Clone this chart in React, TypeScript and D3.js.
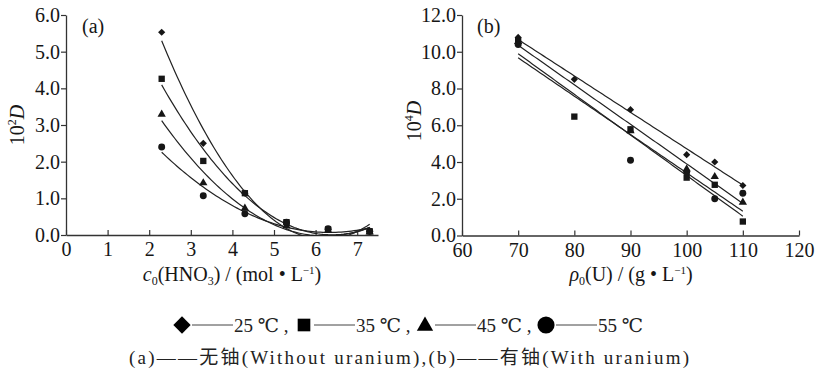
import React, { useEffect, useRef } from 'react';
import * as d3 from 'd3';

// panel (a): without uranium, x = c0(HNO3) mol/L, y = 10^2 D
const concA = [2.3, 3.3, 4.3, 5.3, 6.3, 7.3];
const a25 = [5.53, 2.5, 1.14, 0.3, 0.15, 0.1];
const a35 = [4.26, 2.02, 1.14, 0.35, 0.15, 0.1];
const a45 = [3.29, 1.42, 0.73, 0.25, 0.12, 0.08];
const a55 = [2.4, 1.07, 0.58, 0.35, 0.17, 0.1];

// panel (b): with uranium, x = rho0(U) g/L, y = 10^4 D  (null = no point)
const rhoB = [70, 80, 90, 100, 105, 110];
const b25 = [10.78, 8.5, 6.85, 4.4, 4.0, 2.72];
const b35 = [10.6, 6.47, 5.78, 3.15, 2.76, 0.76];
const b45 = [10.55, null, 5.7, 3.62, 3.2, 1.8];
const b55 = [10.4, null, 4.1, 3.45, 2.0, 2.3];

const temps = ['25 ℃', '35 ℃', '45 ℃', '55 ℃'];
const ticksA_x = [0, 1, 2, 3, 4, 5, 6, 7];
const ticksA_y = [0, 1, 2, 3, 4, 5, 6];
const ticksB_x = [60, 70, 80, 90, 100, 110, 120];
const ticksB_y = [0, 2, 4, 6, 8, 10, 12];

const FONT = 'Liberation Serif, Times New Roman, DejaVu Serif, Noto Sans CJK SC, serif';
const INK = '#161616';

// least squares polynomial fit (degree 1 or 2) via normal equations
function polyFit(xs: number[], ys: (number | null)[], deg: number) {
  const pts = xs.map((x, i) => [x, ys[i]]).filter((p) => p[1] != null) as number[][];
  const n = deg + 1;
  const M: number[][] = [];
  for (let r = 0; r < n; r++) {
    M.push([]);
    for (let c = 0; c <= n; c++) M[r].push(0);
  }
  pts.forEach(([x, y]) => {
    for (let r = 0; r < n; r++) {
      for (let c = 0; c < n; c++) M[r][c] += Math.pow(x, r + c);
      M[r][n] += y * Math.pow(x, r);
    }
  });
  for (let i = 0; i < n; i++) {
    for (let k = i + 1; k < n; k++) {
      const f = M[k][i] / M[i][i];
      for (let c = i; c <= n; c++) M[k][c] -= f * M[i][c];
    }
  }
  const coef = new Array(n).fill(0);
  for (let i = n - 1; i >= 0; i--) {
    let s = M[i][n];
    for (let c = i + 1; c < n; c++) s -= M[i][c] * coef[c];
    coef[i] = s / M[i][i];
  }
  return (x: number) => coef.reduce((acc, c, i) => acc + c * Math.pow(x, i), 0);
}

function markerPath(kind: number, size: number) {
  if (kind === 0 || kind === 1) return d3.symbol(d3.symbolSquare, size)()!;
  if (kind === 2) return d3.symbol(d3.symbolTriangle, size)()!;
  return d3.symbol(d3.symbolCircle, size)()!;
}

export default function App() {
  const ref = useRef<SVGSVGElement>(null);

  useEffect(() => {
    const svg = d3.select(ref.current);
    svg.selectAll('*').remove();
    svg.attr('font-family', FONT);

    var panels = [
      {
        id: 'a',
        xs: concA,
        series: [a25, a35, a45, a55],
        deg: 2,
        x: d3.scaleLinear().domain([0, 7.5]).range([66, 378]),
        y: d3.scaleLinear().domain([0, 6]).range([235, 15]),
        xTicks: ticksA_x,
        yTicks: ticksA_y,
        labelX: 82,
        yLabel: { x: 24, y: 125, sup: '2' },
      },
      {
        id: 'b',
        xs: rhoB,
        series: [b25, b35, b45, b55],
        deg: 1,
        x: d3.scaleLinear().domain([60, 120]).range([462, 799]),
        y: d3.scaleLinear().domain([0, 12]).range([235.5, 15]),
        xTicks: ticksB_x,
        yTicks: ticksB_y,
        labelX: 477,
        yLabel: { x: 421, y: 121, sup: '4' },
      },
    ];

    const ptSize = [26, 40, 30, 38];

    panels.forEach((p) => {
      const g = svg.append('g');

      // axes
      const yAxis = d3.axisLeft(p.y).tickValues(p.yTicks).tickFormat(d3.format('.1f')).tickSize(5).tickSizeOuter(0).tickPadding(1);
      const xAxis = d3.axisBottom(p.x).tickValues(p.xTicks).tickFormat(d3.format('d')).tickSize(-5).tickSizeOuter(0).tickPadding(7);

      const ya = g.append('g').attr('transform', `translate(${p.x.range()[0]},0)`).call(yAxis);
      const xa = g.append('g').attr('transform', `translate(0,${p.y.range()[0]})`).call(xAxis);
      [ya, xa].forEach((ax) => {
        ax.attr('font-family', FONT).attr('font-size', 20);
        ax.select('.domain').attr('stroke', '#333').attr('stroke-width', 1.3);
        ax.selectAll('.tick line').attr('stroke', '#333').attr('stroke-width', 1.2);
        ax.selectAll('text').attr('fill', INK);
      });

      // clip
      const clipId = 'clip-' + p.id;
      svg.append('clipPath').attr('id', clipId)
        .append('rect')
        .attr('x', p.x.range()[0])
        .attr('y', p.y.range()[1])
        .attr('width', p.x.range()[1] - p.x.range()[0])
        .attr('height', p.y.range()[0] - p.y.range()[1] + 1);

      // fitted curves
      const x0 = d3.min(p.xs)!;
      const x1 = d3.max(p.xs)!;
      const samples = d3.range(0, 81).map((i) => x0 + ((x1 - x0) * i) / 80);
      p.series.forEach((s) => {
        const f = polyFit(p.xs, s, p.deg);
        g.append('path')
          .datum(samples)
          .attr('clip-path', `url(#${clipId})`)
          .attr('d', d3.line<number>().x((d) => p.x(d)).y((d) => p.y(f(d))))
          .attr('fill', 'none')
          .attr('stroke', '#222')
          .attr('stroke-width', 1.2);
      });

      // points
      p.series.forEach((s, k) => {
        g.append('g')
          .selectAll('path')
          .data(p.xs.map((x, i) => ({ x, v: s[i] })).filter((d) => d.v != null))
          .enter()
          .append('path')
          .attr('d', markerPath(k, ptSize[k]))
          .attr('transform', (d) => `translate(${p.x(d.x)},${p.y(d.v as number)})` + (k === 0 ? ' rotate(45)' : ''))
          .attr('fill', INK);
      });

      // panel label
      g.append('text')
        .attr('x', p.labelX)
        .attr('y', 33)
        .attr('font-size', 20)
        .attr('fill', INK)
        .text(`(${p.id})`);

      // y label
      const yl = g.append('text')
        .attr('transform', `translate(${p.yLabel.x},${p.yLabel.y}) rotate(-90)`)
        .attr('text-anchor', 'middle')
        .attr('font-size', 20)
        .attr('fill', INK);
      yl.append('tspan').text('10');
      yl.append('tspan').attr('dy', -8).attr('font-size', 12).text(p.yLabel.sup);
      yl.append('tspan').attr('dy', 8).attr('font-style', 'italic').text('D');
    });

    // x labels
    const xlA = svg.append('text')
      .attr('x', 232).attr('y', 281).attr('text-anchor', 'middle')
      .attr('font-size', 20).attr('fill', INK);
    xlA.append('tspan').attr('font-style', 'italic').text('c');
    xlA.append('tspan').attr('dy', 4).attr('font-size', 12).text('0');
    xlA.append('tspan').attr('dy', -4).text('(HNO');
    xlA.append('tspan').attr('dy', 4).attr('font-size', 12).text('3');
    xlA.append('tspan').attr('dy', -4).text(') / (mol • L');
    xlA.append('tspan').attr('dy', -7).attr('font-size', 11).text('−1');
    xlA.append('tspan').attr('dy', 7).text(')');

    const xlB = svg.append('text')
      .attr('x', 631).attr('y', 281).attr('text-anchor', 'middle')
      .attr('font-size', 20).attr('fill', INK);
    xlB.append('tspan').attr('font-style', 'italic').text('ρ');
    xlB.append('tspan').attr('dy', 4).attr('font-size', 12).text('0');
    xlB.append('tspan').attr('dy', -4).text('(U) / (g • L');
    xlB.append('tspan').attr('dy', -7).attr('font-size', 11).text('−1');
    xlB.append('tspan').attr('dy', 7).text(')');

    // legend row 1
    const legX = [182, 304, 425, 546];
    const legSize = [150, 160, 115, 230];
    const leg = svg.append('g');
    temps.forEach((t, k) => {
      const cx = legX[k];
      leg.append('path')
        .attr('d', markerPath(k, legSize[k]))
        .attr('transform', `translate(${cx},${k === 2 ? 326 : 325})` + (k === 0 ? ' rotate(45)' : ''))
        .attr('fill', '#000');
      leg.append('line')
        .attr('x1', cx + 10).attr('x2', cx + 51)
        .attr('y1', 325).attr('y2', 325)
        .attr('stroke', '#444').attr('stroke-width', 1);
      leg.append('text')
        .attr('x', cx + 52).attr('y', 332)
        .attr('font-size', 19).attr('fill', '#222')
        .text(t + (k < 3 ? ' ,' : ''));
    });

    // legend row 2
    svg.append('text')
      .attr('x', 409).attr('y', 364).attr('text-anchor', 'middle')
      .attr('font-size', 19).attr('fill', '#222')
      .attr('textLength', 560).attr('lengthAdjust', 'spacing')
      .text('(a)——无铀(Without uranium),(b)——有铀(With uranium)');
  }, []);

  return (
    <div style={{ position: 'absolute', left: 0, top: 0 }}>
      <svg ref={ref} width={818} height={373} style={{ background: 'white', display: 'block' }} />
    </div>
  );
}
